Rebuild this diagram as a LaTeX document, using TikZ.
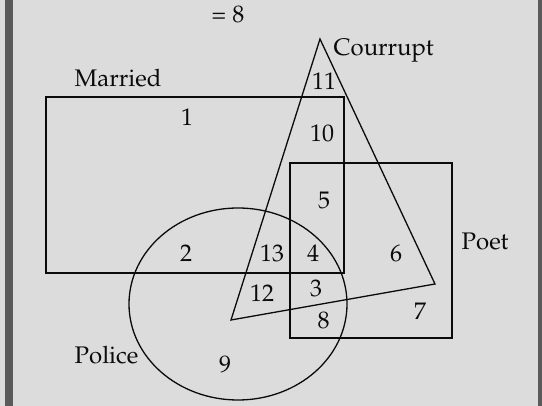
\documentclass[tikz,border=0pt]{standalone}
\usepackage[T1]{fontenc}
\usepackage{mathpazo}
\usepackage{xcolor}
\definecolor{paper}{HTML}{DCDCDC}
\definecolor{rim}{HTML}{5A5A5A}
\definecolor{ink}{HTML}{0B0B0B}

\begin{document}
\begin{tikzpicture}[x=0.5pt,y=-0.5pt,line width=0.65pt,
    lbl/.style={font=\fontsize{12}{14}\selectfont,text=ink,inner sep=0pt}]
  % page and the two side bars
  \fill[paper] (0,0) rectangle (542,406);
  \fill[rim] (5,0) rectangle (13,406);
  \fill[rim] (538,0) rectangle (542,406);
  \useasboundingbox (0,0) rectangle (542,406);
  % the four sets
  \draw[ink] (46,97) rectangle (344,273);                  % Married
  \draw[ink] (290,163) rectangle (452,338);                % Poet
  \draw[ink] (320,39) -- (231,320) -- (435,284) -- cycle;  % Courrupt
  \draw[ink] (238,304) ellipse [x radius=109, y radius=96]; % Police
  % set names
  \node[lbl,anchor=base] (total) at (228,22.5) {= 8};
  \node[lbl,anchor=base west] (courrupt) at (333,56) {Courrupt};
  \node[lbl,anchor=base west] (married) at (74,87) {Married};
  \node[lbl,anchor=base west] (poet) at (461,250) {Poet};
  \node[lbl,anchor=base west] (police) at (74,364) {Police};
  % region numbers
  \foreach \n/\x/\y in {1/187/126,2/186/262,3/316/297,4/313/262,5/324/209,
      6/396/262,7/420/320,8/323.5/329,9/225/373,10/322/142,11/324/90,
      12/262/302,13/272/262}
    \node[lbl,anchor=base] (r\n) at (\x,\y) {\n};
\end{tikzpicture}
\end{document}
